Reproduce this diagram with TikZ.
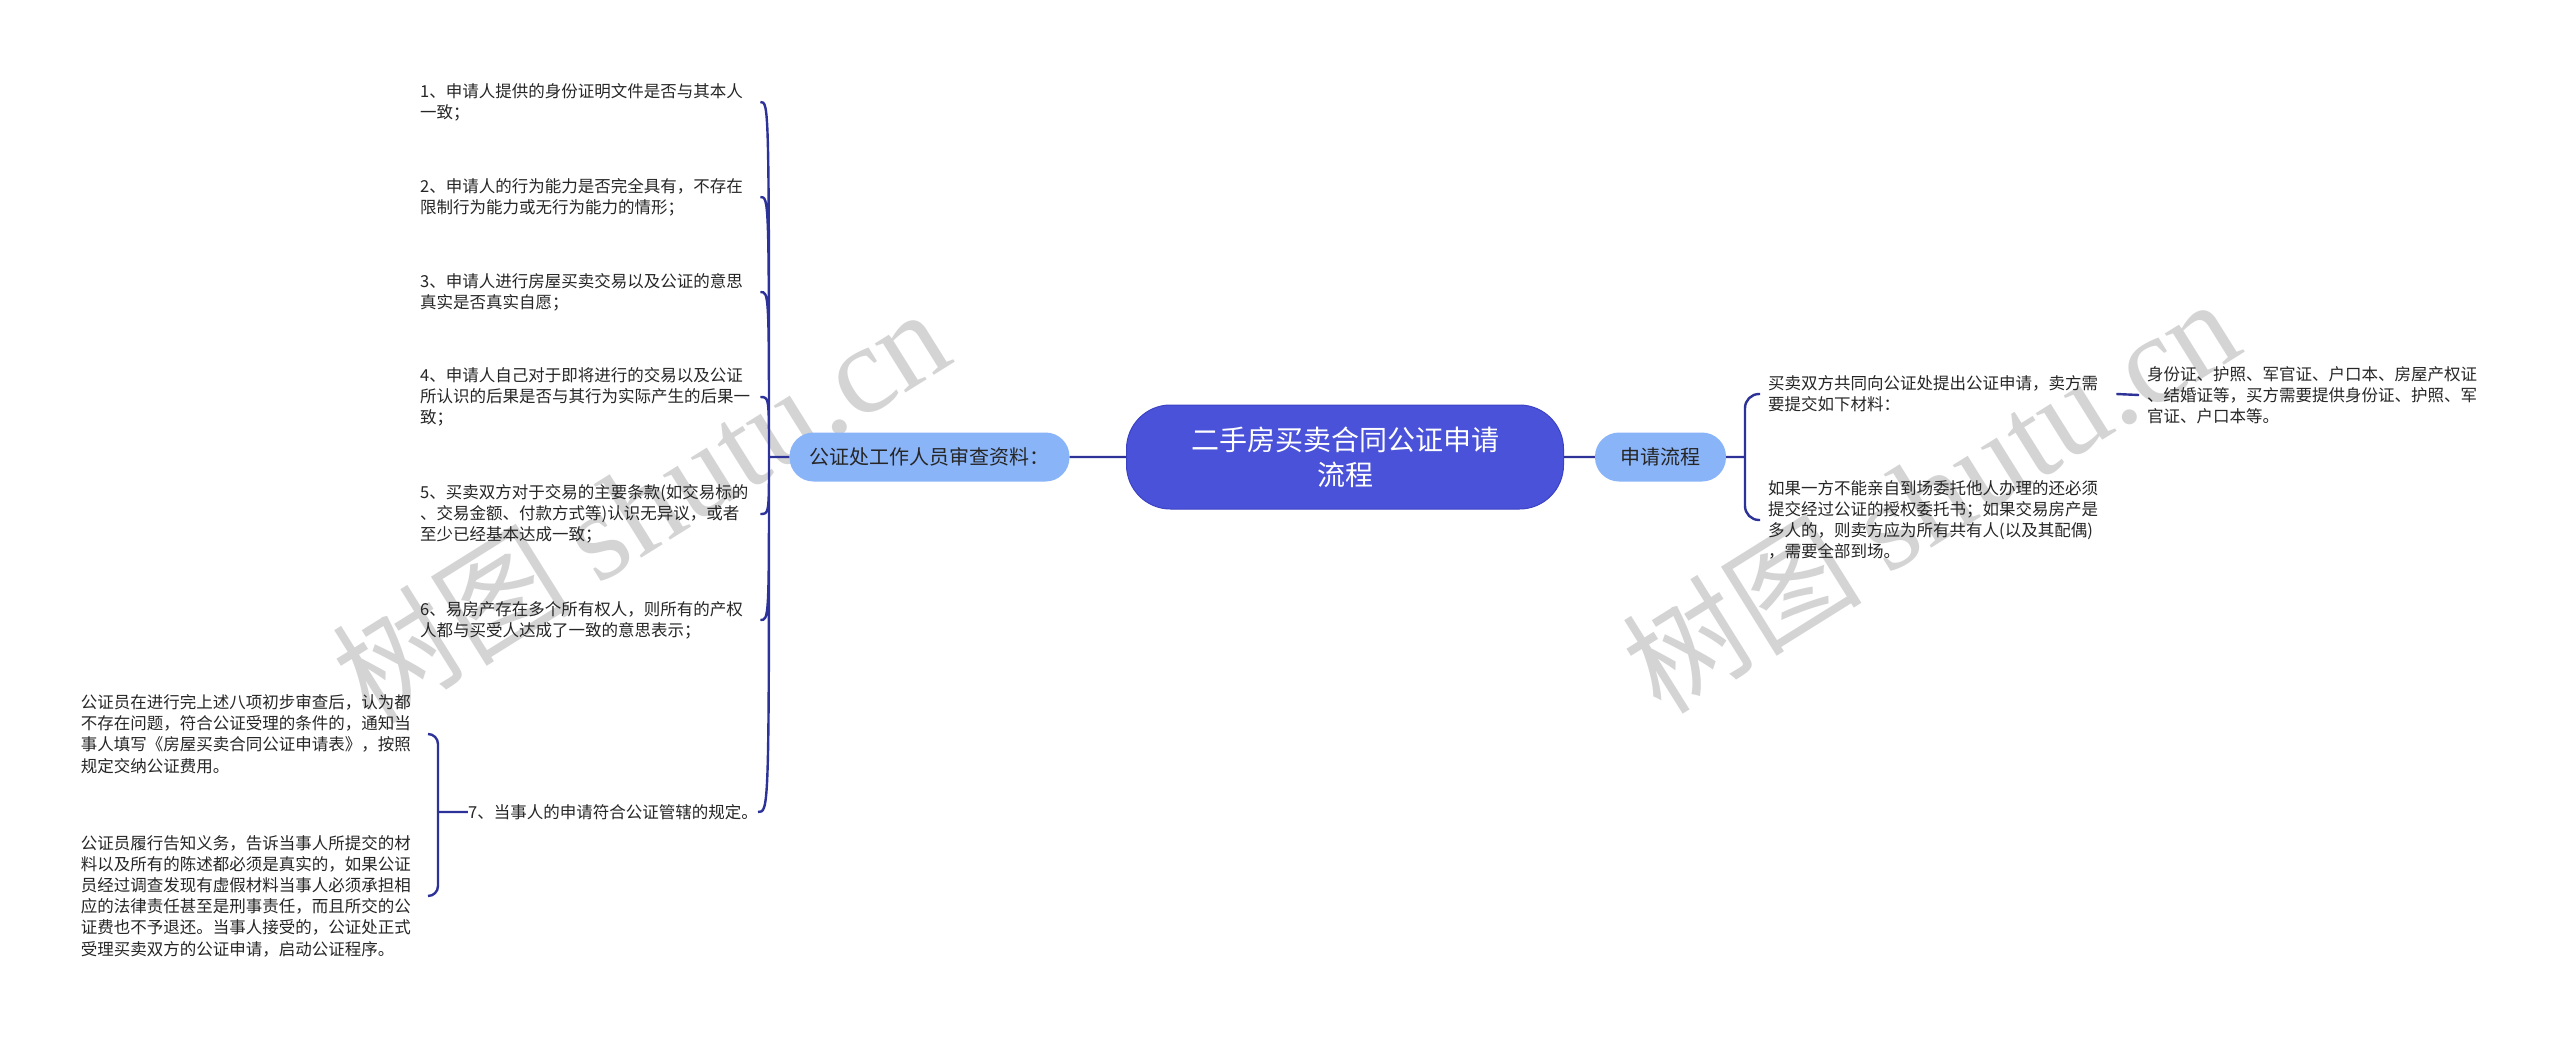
\documentclass[tikz,border=0pt]{standalone}
\usepackage{fontspec}
\setmainfont{Noto Sans CJK SC}
\newfontfamily\wmlatin{Liberation Serif}
\usetikzlibrary{positioning}
\definecolor{rootblue}{RGB}{74,82,217}
\definecolor{rootedge}{RGB}{60,66,196}
\definecolor{topicblue}{RGB}{138,180,248}
\definecolor{linkblue}{RGB}{44,50,152}
\definecolor{leaftext}{RGB}{38,38,38}
\definecolor{wmgray}{RGB}{212,212,212}
\tikzset{
    x=1pt, y=-1pt, % one unit is one pixel of the reference, y runs downwards
    rootnode/.style={fill=rootblue, draw=rootedge, line width=1pt, text=white, rounded corners=44pt,
        minimum width=437pt, minimum height=104pt, align=center, font=\fontsize{28}{35}\selectfont}, % the centre topic
    topic/.style={fill=topicblue, text=leaftext, rounded corners=24pt, minimum height=49pt,
        inner xsep=20pt, font=\fontsize{20}{24}\selectfont}, % the two main branches
    leaf/.style={text=leaftext, align=left, inner xsep=0pt, inner ysep=2pt,
        font=\fontsize{16.5}{21.2}\selectfont}, % plain text items
    wide/.style={leaf, text width=340pt}, % items that wrap over several lines
    conn/.style={draw=linkblue, line width=2.4pt}, % the connectors
    wm/.style={text=wmgray, font=\fontsize{120}{120}\selectfont, inner sep=0pt}, % watermark
}
\begin{document}
\begin{tikzpicture}
\useasboundingbox (0,0) rectangle (2560,1037);
\fill[white] (0,0) rectangle (2560,1037);
% watermark
\node[wm, rotate=32] (wm1) at (640,505) {树图 {\wmlatin\fontsize{126}{126}\selectfont shutu.cn}};
\node[wm, rotate=32] (wm2) at (1930,495) {树图 {\wmlatin\fontsize{126}{126}\selectfont shutu.cn}};
% centre and main branches
\node[rootnode] (root) at (1345,457) {二手房买卖合同公证申请\\流程};
\node[topic] (left) at (929.5,457) {公证处工作人员审查资料：};
\node[topic, minimum width=131pt, inner xsep=0pt] (right) at (1660.5,457) {申请流程};
% left items
\node[wide, anchor=west] (a1) at (420,102) {1、申请人提供的身份证明文件是否与其本人\\一致；};
\node[wide, anchor=west] (a2) at (420,197) {2、申请人的行为能力是否完全具有，不存在\\限制行为能力或无行为能力的情形；};
\node[wide, anchor=west] (a3) at (420,292) {3、申请人进行房屋买卖交易以及公证的意思\\真实是否真实自愿；};
\node[wide, anchor=west] (a4) at (420,397) {4、申请人自己对于即将进行的交易以及公证\\所认识的后果是否与其行为实际产生的后果一\\致；};
\node[wide, anchor=west] (a5) at (420,514) {5、买卖双方对于交易的主要条款(如交易标的\\、交易金额、付款方式等)认识无异议，或者\\至少已经基本达成一致；};
\node[wide, anchor=west] (a6) at (420,620) {6、易房产存在多个所有权人，则所有的产权\\人都与买受人达成了一致的意思表示；};
\node[leaf, anchor=east] (a7) at (758,812) {7、当事人的申请符合公证管辖的规定。};
\node[wide, inner xsep=7pt, anchor=east] (s1) at (428,734) {公证员在进行完上述八项初步审查后，认为都\\不存在问题，符合公证受理的条件的，通知当\\事人填写《房屋买卖合同公证申请表》，按照\\规定交纳公证费用。};
\node[wide, inner xsep=7pt, anchor=east] (s2) at (428,896) {公证员履行告知义务，告诉当事人所提交的材\\料以及所有的陈述都必须是真实的，如果公证\\员经过调查发现有虚假材料当事人必须承担相\\应的法律责任甚至是刑事责任，而且所交的公\\证费也不予退还。当事人接受的，公证处正式\\受理买卖双方的公证申请，启动公证程序。};
% right items
\node[wide, inner xsep=8pt, anchor=west] (b1) at (1760,394) {买卖双方共同向公证处提出公证申请，卖方需\\要提交如下材料：};
\node[wide, inner xsep=8pt, anchor=west] (b2) at (1760,520) {如果一方不能亲自到场委托他人办理的还必须\\提交经过公证的授权委托书；如果交易房产是\\多人的，则卖方应为所有共有人(以及其配偶)\\，需要全部到场。};
\node[wide, inner xsep=8pt, anchor=west] (c1) at (2139,395) {身份证、护照、军官证、户口本、房屋产权证\\、结婚证等，买方需要提供身份证、护照、军\\官证、户口本等。};
% connectors
\coordinate (lt) at (769,457);
\coordinate (st) at (438,812);
\coordinate (rt) at (1745,457);
\draw[conn]
    (root.west) -- (left.east)
    (root.east) -- (right.west)
    (left.west) -- (lt)
    (lt) .. controls (lt |- a1.east) and (lt |- a1.east) .. (a1.east)
    (lt) .. controls (lt |- a2.east) and (lt |- a2.east) .. (a2.east)
    (lt) .. controls (lt |- a3.east) and (lt |- a3.east) .. (a3.east)
    (lt) .. controls (lt |- a4.east) and (lt |- a4.east) .. (a4.east)
    (lt) .. controls (lt |- a5.east) and (lt |- a5.east) .. (a5.east)
    (lt) .. controls (lt |- a6.east) and (lt |- a6.east) .. (a6.east)
    (lt) .. controls (lt |- a7.east) and (lt |- a7.east) .. (a7.east)
    (a7.west) -- (st)
    (right.east) -- (rt)
    (b1.east) -- (c1.west);
\draw[conn, rounded corners=10pt]
    (st) |- (s1.east)
    (st) |- (s2.east);
\draw[conn, rounded corners=14pt]
    (rt) |- (b1.west)
    (rt) |- (b2.west);
\end{tikzpicture}
\end{document}
